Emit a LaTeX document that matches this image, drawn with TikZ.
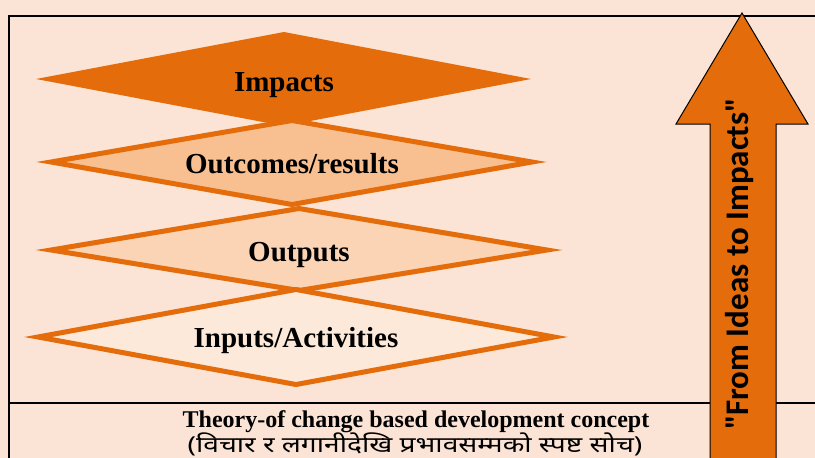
\documentclass[tikz,border=0pt]{standalone}
\usepackage{fontspec}
\setmainfont{Liberation Serif}
\newfontfamily\devfont[Script=Devanagari]{Noto Sans}
\newfontfamily\arrowfont{Carlito}
\definecolor{bgc}{HTML}{FBE4D5}
\definecolor{orng}{HTML}{E46C0A}
\definecolor{outc}{HTML}{F8C090}
\definecolor{outp}{HTML}{FAD4B5}
\definecolor{inpc}{HTML}{FDE9DA}
\tikzset{
  framel/.style={draw=black, line width=1.7pt},
  dia/.style={draw=orng, line width=5pt, line join=miter},
  lbl/.style={font=\bfseries\fontsize{29}{31}\selectfont, inner sep=0pt, anchor=base},
  bigarrow/.style={fill=orng, draw=black, line width=1pt, line join=miter}
}
\begin{document}
\begin{tikzpicture}[x=1pt,y=-1pt]
\fill[bgc] (0,0) rectangle (815,458);
\useasboundingbox (0,0) rectangle (815,458);
\begin{scope}
\clip (0,0) rectangle (815,458);
% frame
\coordinate (ftr) at (830,16);
\coordinate (ftl) at (9,16);
\coordinate (fbl) at (9,470);
\coordinate (dl) at (9,403);
\coordinate (dr) at (830,403);
\draw[framel] (ftr) -- (ftl) -- (fbl);
\draw[framel, line width=1.5pt] (dl) -- (dr);
% diamonds
\fill[orng] (36,79) -- (284,32) -- (531,79) -- (284,126) -- cycle;
\filldraw[dia, fill=outc] (51,162) -- (292,120.5) -- (532,162) -- (292,204.5) -- cycle;
\filldraw[dia, fill=outp] (51,250) -- (299,208.5) -- (547,250) -- (299,290.5) -- cycle;
\filldraw[dia, fill=inpc] (38,337) -- (296,289.5) -- (554,337) -- (296,384.5) -- cycle;
\node[lbl] (impacts) at (284,91) {Impacts};
\node[lbl] (outcomes) at (292,173) {Outcomes/results};
\node[lbl] (outputs) at (299,261) {Outputs};
\node[lbl] (inputs) at (296,347) {Inputs/Activities};
% bottom texts
\node[font=\bfseries\fontsize{24}{26}\selectfont, inner sep=0pt, anchor=base] (title) at (416,427) {Theory-of change based development concept};
\node[font=\devfont\fontsize{22}{24}\selectfont, inner sep=0pt, anchor=base, xscale=1.28] (subtitle) at (415,452) {(विचार र लगानीदेखि प्रभावसम्मको स्पष्ट सोच)};
% arrow
\draw[bigarrow] (710,470) -- (710,124) -- (676,124) -- (742,13) -- (808,124) -- (776,124) -- (776,470);
\node[rotate=90, font=\arrowfont\bfseries\fontsize{33}{35}\selectfont, inner sep=0pt] (arrowtext) at (740,264) {"From Ideas to Impacts"};
\end{scope}
\end{tikzpicture}
\end{document}
